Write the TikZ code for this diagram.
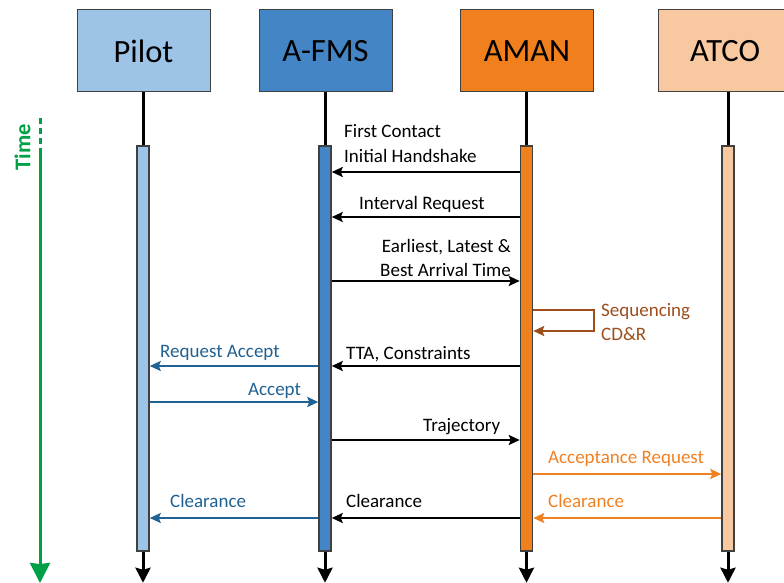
\documentclass[tikz,border=0pt]{standalone}
\usepackage{fontspec}
\setmainfont{Carlito}
\usetikzlibrary{arrows.meta}

\definecolor{pilotfill}{HTML}{9DC3E6}
\definecolor{fmsfill}{HTML}{4485C5}
\definecolor{amanfill}{HTML}{F0801E}
\definecolor{atcofill}{HTML}{F8C9A0}
\definecolor{edgegray}{HTML}{404040}
\definecolor{msgblue}{HTML}{1F6192}
\definecolor{msgbrown}{HTML}{9E4D1B}
\definecolor{msgorange}{HTML}{F08122}
\definecolor{timegreen}{HTML}{00A046}

\tikzset{
  actor/.style={draw=edgegray, line width=1pt, minimum width=133pt, minimum height=82pt,
    inner sep=0pt, font=\fontsize{32.5}{32.5}\selectfont},
  bar/.style={draw=edgegray, line width=1.5pt, minimum width=12pt, minimum height=405pt, inner sep=0pt},
  life/.style={line width=3pt, black},
  lifeend/.style={life, -{Stealth[length=15pt,width=15pt,inset=2pt]}},
  msg/.style={line width=2pt, -{Stealth[length=11pt,width=10pt,inset=2pt]}},
  lbl/.style={inner sep=0pt, anchor=base west, font=\fontsize{19}{24}\selectfont},
}

\begin{document}
\begin{tikzpicture}[x=1pt, y=-1pt]
  \useasboundingbox (0,0) rectangle (784,583);

  % actors
  \node[actor, fill=pilotfill] (pilot) at (143.5,51) {Pilot};
  \node[actor, fill=fmsfill]   (fms)   at (325.5,51) {A-FMS};
  \node[actor, fill=amanfill]  (aman)  at (527,51)   {AMAN};
  \node[actor, fill=atcofill]  (atco)  at (725,51)   {ATCO};

  % activation bars
  \node[bar, fill=pilotfill] (pilotbar) at (143,348.5) {};
  \node[bar, fill=fmsfill]   (fmsbar)   at (325,348.5) {};
  \node[bar, fill=amanfill]  (amanbar)  at (526.5,348.5) {};
  \node[bar, fill=atcofill]  (atcobar)  at (728,348.5) {};

  % lifelines
  \foreach \a in {pilot,fms,aman,atco} {
    \coordinate (\a end) at ([yshift=-31pt]\a bar.south);
    \draw[life] (\a bar.north |- \a.south) -- (\a bar.north);
    \draw[lifeend] (\a bar.south) -- (\a end);
  }

  % time axis
  \coordinate (timetop) at (40,118);
  \coordinate (timemid) at (40,150);
  \coordinate (timeend) at (40,583);
  \draw[timegreen, line width=3pt, dash pattern=on 6pt off 4pt] (timetop) -- (timemid);
  \draw[timegreen, line width=3pt, -{Stealth[length=20pt,width=20pt,inset=1pt]}] (timemid) -- (timeend);
  \node[rotate=90, inner sep=0pt, text=timegreen, font=\fontsize{22.5}{22.5}\selectfont\bfseries]
    (timelbl) at (22.5,147) {Time};

  % message rows
  \foreach \n/\y in {1/172, 2/217, 3/281, 4/310, 5/331, 6/366, 7/402, 8/440, 9/474, 10/518}
    \coordinate (t\n) at (0,\y);

  \draw[msg] (amanbar.west |- t1) -- (fmsbar.east |- t1);
  \node[lbl] (firstcontact) at (344,138) {First Contact};
  \node[lbl] (handshake) at (344,162) {Initial Handshake};

  \draw[msg] (amanbar.west |- t2) -- (fmsbar.east |- t2);
  \node[lbl] (intervalreq) at (359,209) {Interval Request};

  \draw[msg] (fmsbar.east |- t3) -- (amanbar.west |- t3);
  \node[lbl, anchor=base east] (earliest) at (511,252) {Earliest, Latest \&};
  \node[lbl, anchor=base east] (bestarrival) at (511,276) {Best Arrival Time};

  \draw[msg, msgbrown] (amanbar.east |- t4) -- ++(61,0) |- (amanbar.east |- t5);
  \node[lbl, text=msgbrown] (sequencing) at (601,316) {Sequencing};
  \node[lbl, text=msgbrown] (cdr) at (601,340) {CD\&R};

  \draw[msg] (amanbar.west |- t6) -- (fmsbar.east |- t6);
  \node[lbl] (tta) at (346,359) {TTA, Constraints};

  \draw[msg, msgblue] (fmsbar.west |- t6) -- (pilotbar.east |- t6);
  \node[lbl, text=msgblue] (reqaccept) at (160,357) {Request Accept};

  \draw[msg, msgblue] (pilotbar.east |- t7) -- (fmsbar.west |- t7);
  \node[lbl, text=msgblue] (accept) at (248,395) {Accept};

  \draw[msg] (fmsbar.east |- t8) -- (amanbar.west |- t8);
  \node[lbl] (trajectory) at (423,431) {Trajectory};

  \draw[msg, msgorange] (amanbar.east |- t9) -- (atcobar.west |- t9);
  \node[lbl, text=msgorange] (accreq) at (548,463) {Acceptance Request};

  \draw[msg, msgorange] (atcobar.west |- t10) -- (amanbar.east |- t10);
  \node[lbl, text=msgorange] (clearatco) at (548,507) {Clearance};

  \draw[msg] (amanbar.west |- t10) -- (fmsbar.east |- t10);
  \node[lbl] (clearaman) at (346,507) {Clearance};

  \draw[msg, msgblue] (fmsbar.west |- t10) -- (pilotbar.east |- t10);
  \node[lbl, text=msgblue] (clearfms) at (170,507) {Clearance};
\end{tikzpicture}
\end{document}
